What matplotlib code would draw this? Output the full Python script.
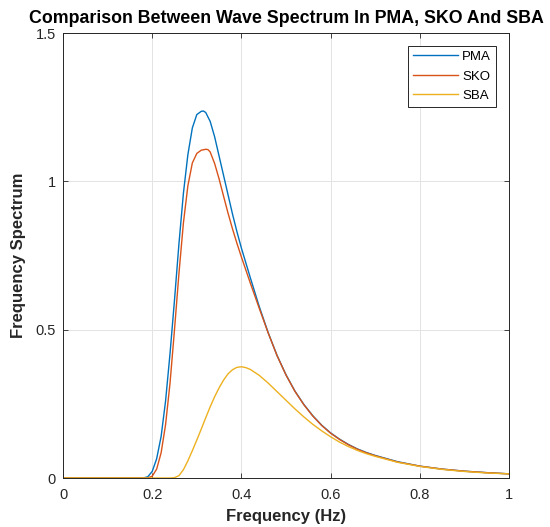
import matplotlib
matplotlib.use("Agg")
import matplotlib.pyplot as plt

# ---- data ----
pma_f = [0.00, 0.18, 0.19, 0.20, 0.21, 0.22, 0.23, 0.24, 0.25, 0.26, 0.27, 0.28, 0.29,
         0.30, 0.31, 0.315, 0.32, 0.33, 0.34, 0.35, 0.36, 0.37, 0.38, 0.39, 0.40, 0.42, 0.44,
         0.46, 0.48, 0.50, 0.52, 0.54, 0.56, 0.58, 0.60, 0.62, 0.64, 0.66, 0.68, 0.70,
         0.75, 0.80, 0.85, 0.90, 0.95, 1.00]
pma_s = [0.000, 0.000, 0.004, 0.022, 0.065, 0.140, 0.260, 0.420, 0.600, 0.790, 0.960, 1.090, 1.180,
         1.225, 1.236, 1.237, 1.232, 1.202, 1.150, 1.085, 1.020, 0.955, 0.890, 0.830, 0.775, 0.675, 0.578,
         0.490, 0.413, 0.348, 0.293, 0.248, 0.210, 0.178, 0.152, 0.131, 0.113, 0.098, 0.086, 0.076,
         0.055, 0.040, 0.030, 0.023, 0.018, 0.014]

sko_f = [0.00, 0.19, 0.20, 0.21, 0.22, 0.23, 0.24, 0.25, 0.26, 0.27, 0.28, 0.29, 0.30,
         0.31, 0.32, 0.325, 0.33, 0.34, 0.35, 0.36, 0.37, 0.38, 0.39, 0.40, 0.42, 0.44, 0.46,
         0.48, 0.50, 0.52, 0.54, 0.56, 0.58, 0.60, 0.62, 0.64, 0.66, 0.68, 0.70,
         0.75, 0.80, 0.85, 0.90, 0.95, 1.00]
sko_s = [0.000, 0.000, 0.006, 0.030, 0.085, 0.180, 0.320, 0.500, 0.690, 0.860, 0.985, 1.062, 1.094,
         1.105, 1.108, 1.107, 1.099, 1.060, 1.008, 0.950, 0.893, 0.840, 0.791, 0.745, 0.657, 0.572, 0.489,
         0.412, 0.347, 0.292, 0.247, 0.209, 0.177, 0.151, 0.130, 0.112, 0.097, 0.085, 0.075,
         0.054, 0.040, 0.030, 0.023, 0.018, 0.014]

sba_f = [0.00, 0.24, 0.25, 0.26, 0.27, 0.28, 0.29, 0.30, 0.31, 0.32, 0.33, 0.34, 0.35,
         0.36, 0.37, 0.38, 0.39, 0.40, 0.41, 0.42, 0.44, 0.46, 0.48, 0.50, 0.52, 0.54,
         0.56, 0.58, 0.60, 0.62, 0.64, 0.66, 0.68, 0.70, 0.75, 0.80, 0.85, 0.90, 0.95, 1.00]
sba_s = [0.000, 0.000, 0.001, 0.008, 0.028, 0.058, 0.092, 0.128, 0.165, 0.203, 0.240, 0.274, 0.304,
         0.330, 0.351, 0.365, 0.373, 0.375, 0.372, 0.366, 0.346, 0.320, 0.291, 0.262, 0.233, 0.206,
         0.181, 0.159, 0.139, 0.121, 0.106, 0.093, 0.082, 0.073, 0.053, 0.039, 0.029, 0.022, 0.017, 0.014]

series_names = ["PMA", "SKO", "SBA"]
series_colors = ["#0072BD", "#D95319", "#EDB120"]

x_ticks = [0, 0.2, 0.4, 0.6, 0.8, 1]
x_tick_labels = ["0", "0.2", "0.4", "0.6", "0.8", "1"]
y_ticks = [0, 0.5, 1, 1.5]
y_tick_labels = ["0", "0.5", "1", "1.5"]

plt.rcParams['font.family'] = ['Liberation Sans', 'DejaVu Sans']

fig = plt.figure(figsize=(5.5, 5.27), dpi=100)
ax = fig.add_axes([63/550, 49/527, 446/550, 445/527])

for f, s, name, c in zip([pma_f, sko_f, sba_f], [pma_s, sko_s, sba_s], series_names, series_colors):
    ax.plot(f, s, color=c, lw=1.0, label=name)

ax.set_xlim(0, 1)
ax.set_ylim(0, 1.5)
ax.set_xticks(x_ticks)
ax.set_xticklabels(x_tick_labels)
ax.set_yticks(y_ticks)
ax.set_yticklabels(y_tick_labels)
ax.grid(True, color="#e3e3e3", lw=0.7)
ax.set_axisbelow(True)
ax.tick_params(direction="in", length=3.5, width=0.6, colors="#262626",
               labelsize=10.5, top=True, right=True)
ax.tick_params(axis="x", pad=7)
ax.tick_params(axis="y", pad=5)
for sp in ax.spines.values():
    sp.set_color("#262626")
    sp.set_linewidth(0.7)

ax.set_title("Comparison Between Wave Spectrum In PMA, SKO And SBA",
             fontsize=12.8, fontweight="bold", pad=7)
ax.set_xlabel("Frequency (Hz)", fontsize=12, fontweight="bold", color="#262626", labelpad=5)
ax.set_ylabel("Frequency Spectrum", fontsize=12, fontweight="bold", color="#262626", labelpad=7)

leg = ax.legend(loc="upper right", fontsize=9.5, fancybox=False, framealpha=1,
                edgecolor="#262626", borderaxespad=0.95, handlelength=3.4,
                handletextpad=0.3, labelspacing=0.55, borderpad=0.4)
leg.get_frame().set_linewidth(0.7)

fig.savefig("out.png", dpi=100)
